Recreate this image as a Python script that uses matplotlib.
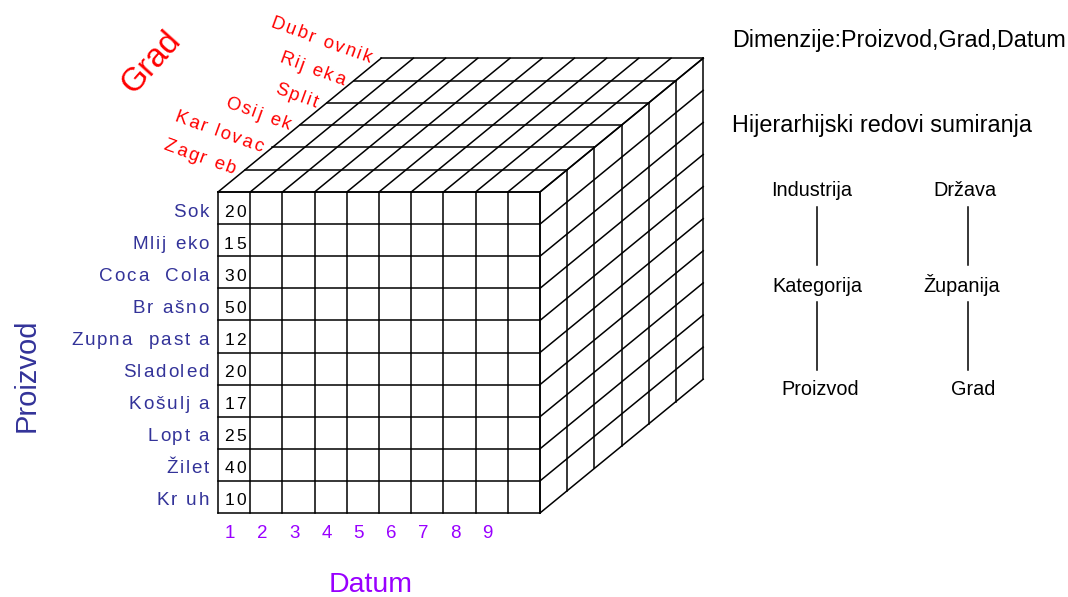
import numpy as np
import matplotlib.pyplot as plt
from matplotlib.font_manager import FontProperties

plt.rcParams['font.family'] = ['Liberation Sans', 'DejaVu Sans']

# data shown on the cube
proizvodi = ["Sok", "Mlij eko", "Coca  Cola", "Br ašno", "Zupna  past a",
             "Sladoled", "Košulj a", "Lopt a", "Žilet", "Kr uh"]
kolicine = [20, 15, 30, 50, 12, 20, 17, 25, 40, 10]
gradovi = ["Zagr eb", "Kar lovac", "Osij ek", "Split", "Rij eka", "Dubr ovnik"]
dani = [1, 2, 3, 4, 5, 6, 7, 8, 9]
broj_dana = 10

# hierarchy columns on the right
hijerarhija_proizvod = ["Industrija", "Kategorija", "Proizvod"]
hijerarhija_grad = ["Država", "Županija", "Grad"]

BLUE = '#333399'
RED = '#ff0000'
PURPLE = '#9900ff'

fig = plt.figure(figsize=(10.68, 5.97), dpi=100)
ax = fig.add_axes([0, 0, 1, 1])
ax.set_xlim(0, 1068)
ax.set_ylim(597, 0)
ax.axis('off')
rend = fig.canvas.get_renderer()


def spaced_text(x, y, s, size, color, track=2.0, rot=0.0, ha='left'):
    # no letter-spacing in matplotlib, so place the chars one by one
    prop = FontProperties(family=plt.rcParams['font.family'], size=size)
    w = lambda t: rend.get_text_width_height_descent(t, prop, ismath=False)[0]
    bar = w('|')
    pos = [w(s[:i] + '|') - bar + i * track for i in range(len(s))]
    total = w(s) + (len(s) - 1) * track
    shift = {'left': 0, 'center': -total / 2, 'right': -total}[ha]
    ux, uy = np.cos(np.radians(rot)), -np.sin(np.radians(rot))
    for ch, p in zip(s, pos):
        if ch == ' ':
            continue
        d = p + shift
        ax.text(x + d * ux, y + d * uy, ch, fontsize=size, color=color,
                rotation=rot, rotation_mode='anchor', ha='left', va='baseline')


# cube geometry (pixels)
x0, y0 = 218, 192          # front face, top-left
cw, ch = 32.2, 32.1        # cell size
ddx, ddy = 27.2, -22.3     # one depth step
nrow, ncol, ndep = len(proizvodi), broj_dana, len(gradovi)
xr = x0 + ncol * cw
yb = y0 + nrow * ch
lw = 1.1

# front face
for j in range(nrow + 1):
    ax.plot([x0, xr], [y0 + j * ch] * 2, '-k', lw=lw)
for i in range(ncol + 1):
    ax.plot([x0 + i * cw] * 2, [y0, yb], '-k', lw=lw)

# top face
for k in range(ndep + 1):
    ax.plot([x0 + k * ddx, xr + k * ddx], [y0 + k * ddy] * 2, '-k', lw=lw)
for i in range(ncol + 1):
    ax.plot([x0 + i * cw, x0 + i * cw + ndep * ddx], [y0, y0 + ndep * ddy], '-k', lw=lw)

# right face
for k in range(ndep + 1):
    ax.plot([xr + k * ddx] * 2, [y0 + k * ddy, yb + k * ddy], '-k', lw=lw)
for j in range(nrow + 1):
    ax.plot([xr, xr + ndep * ddx], [y0 + j * ch, y0 + j * ch + ndep * ddy], '-k', lw=lw)

# product names + values in the first column
for j, (p, v) in enumerate(zip(proizvodi, kolicine)):
    yc = y0 + (j + 0.5) * ch
    spaced_text(209, yc + 8.5, p, 13.6, BLUE, track=1.9, ha='right')
    spaced_text(246, yc + 8.5, str(v), 12.5, 'black', track=2.5, ha='right')

# cities along the top-left edge
for k, g in enumerate(gradovi):
    xd = x0 + (k + 0.5) * ddx
    yd = y0 + (k + 0.5) * ddy
    spaced_text(xd + 2, yd - 6, g, 13.3, RED, track=2.0, rot=-20, ha='right')

# days under the front face
for i, d in enumerate(dani):
    ax.text(x0 + (i + 0.5) * cw - 4, 538, str(d), fontsize=13.5, color=PURPLE,
            ha='center', va='baseline')

# axis titles
ax.text(371, 592, 'Datum', fontsize=20.5, color=PURPLE, ha='center', va='baseline')
ax.text(35, 375, 'Proizvod', fontsize=21, color=BLUE, rotation=90,
        rotation_mode='anchor', ha='center', va='baseline')
ax.text(151, 62, 'Grad', fontsize=23.5, color=RED, rotation=48,
        rotation_mode='anchor', ha='center', va='center')

# right side text
ax.text(732, 47, 'Dimenzije:Proizvod,Grad,Datum', fontsize=16.8, ha='left', va='baseline')
ax.text(732, 132, 'Hijerarhijski redovi sumiranja', fontsize=16.8, ha='left', va='baseline')

stupci = [(817, [812, 817, 820], hijerarhija_proizvod),
          (968, [965, 962, 973], hijerarhija_grad)]
for xl, xs, levels in stupci:
    for lvl, xt, yt in zip(levels, xs, [196.5, 291.5, 395]):
        ax.text(xt, yt, lvl, fontsize=14.3, ha='center', va='baseline')
    ax.plot([xl, xl], [207, 265], '-k', lw=1.1)
    ax.plot([xl, xl], [302, 370], '-k', lw=1.1)

fig.savefig('out.png', dpi=100)
